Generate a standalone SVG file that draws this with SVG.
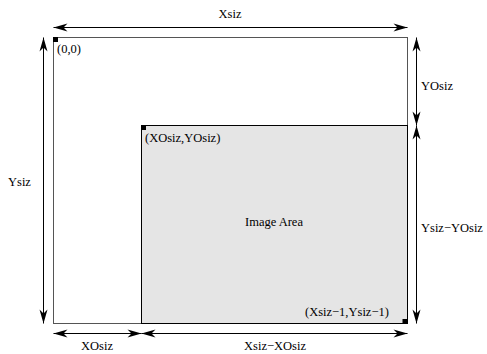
<svg xmlns="http://www.w3.org/2000/svg" width="487" height="354" viewBox="0 0 487 354">
<style>
.t{font-family:"Liberation Serif","Times New Roman",serif;font-size:12.5px;fill:#000}
.a{stroke:#000;stroke-width:1;fill:none;marker-start:url(#h);marker-end:url(#h)}
</style>
<defs>
<marker id="h" viewBox="-15 -5 16 10" markerWidth="16" markerHeight="10" refX="0" refY="0" orient="auto-start-reverse" markerUnits="userSpaceOnUse">
<path d="M0,0 L-14,-4 L-10,0 L-14,4 Z" fill="#000"/>
</marker>
</defs>
<rect width="487" height="354" fill="#fff"/>
<g id="outer">
<rect x="53.5" y="37.5" width="354" height="286" fill="#fff" stroke="#555" stroke-width="1"/>
<rect x="53" y="37" width="5" height="5" fill="#000"/>
<text class="t" x="57" y="53">(0,0)</text>
</g>
<g id="image-area">
<rect x="141.5" y="125.5" width="266" height="198" fill="#e5e5e5" stroke="#000" stroke-width="1"/>
<rect x="141" y="125" width="5" height="5" fill="#000"/>
<rect x="402.5" y="319" width="5" height="5" fill="#000"/>
<text class="t" x="145" y="142">(XOsiz,YOsiz)</text>
<text class="t" x="274" y="226" text-anchor="middle">Image Area</text>
<text class="t" x="305" y="316">(Xsiz−1,Ysiz−1)</text>
</g>
<g id="connectors">
<line class="a" x1="53.5" y1="27.5" x2="407.5" y2="27.5"/>
<line class="a" x1="43.5" y1="37.5" x2="43.5" y2="323.5"/>
<line class="a" x1="416.5" y1="37.5" x2="416.5" y2="125.5"/>
<line class="a" x1="416.5" y1="125.5" x2="416.5" y2="323.5"/>
<line class="a" x1="53.5" y1="333.5" x2="141.5" y2="333.5"/>
<line class="a" x1="141.5" y1="333.5" x2="407.5" y2="333.5"/>
</g>
<g id="labels">
<text class="t" x="230" y="18" text-anchor="middle">Xsiz</text>
<text class="t" x="8" y="186">Ysiz</text>
<text class="t" x="421" y="90">YOsiz</text>
<text class="t" x="421" y="232">Ysiz−YOsiz</text>
<text class="t" x="97" y="350" text-anchor="middle">XOsiz</text>
<text class="t" x="275" y="350" text-anchor="middle">Xsiz−XOsiz</text>
</g>
</svg>
